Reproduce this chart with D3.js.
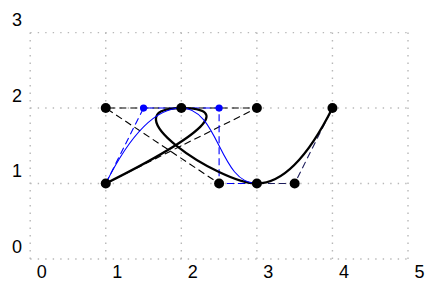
<!DOCTYPE html>
<html><head><meta charset="utf-8">
<script src="https://cdn.jsdelivr.net/npm/d3@7"></script>
<style>html,body{margin:0;padding:0;background:#fff;}svg{display:block;}</style>
</head><body>
<script>
const xTicks = [0,1,2,3,4,5];
const yTicks = [0,1,2,3];
// black path: M1,1 Q3,2 2,2 S2.5,1 3,1 T4,2 (with reflected control points)
const blackStart = [1,1];
const blackSegments = [
  {type:"Q", pts:[[3,2],[2,2]]},
  {type:"C", pts:[[1,2],[2.5,1],[3,1]]},
  {type:"Q", pts:[[3.5,1],[4,2]]}
];
// blue path: M1,1 Q1.5,2 2,2 S2.5,1 3,1
const blueStart = [1,1];
const blueSegments = [
  {type:"Q", pts:[[1.5,2],[2,2]]},
  {type:"C", pts:[[2.5,2],[2.5,1],[3,1]]}
];

const W=426,H=282;
const svg=d3.select("body").append("svg").attr("width",W).attr("height",H);
const x=d3.scaleLinear().domain([0,5]).range([30.2,408]);
const y=d3.scaleLinear().domain([0,3]).range([259,32.6]);

// grid
const g=svg.append("g");
g.selectAll(".vg").data(xTicks).enter().append("line")
 .attr("x1",d=>x(d)).attr("x2",d=>x(d)).attr("y1",y(0)).attr("y2",y(3))
 .attr("stroke","#b8b8b8").attr("stroke-width",1.4).attr("stroke-dasharray","1.4,6.1");
g.selectAll(".hg").data(yTicks).enter().append("line")
 .attr("y1",d=>y(d)).attr("y2",d=>y(d)).attr("x1",x(0)).attr("x2",x(5))
 .attr("stroke","#b8b8b8").attr("stroke-width",1.4).attr("stroke-dasharray","1.4,6.1");

// tick labels
svg.selectAll(".xl").data(xTicks).enter().append("text")
 .attr("x",d=>x(d)+11.5).attr("y",278).attr("text-anchor","middle")
 .attr("font-family","Liberation Sans, Arial, sans-serif").attr("font-size",18).text(d=>d);
svg.selectAll(".yl").data(yTicks).enter().append("text")
 .attr("x",17).attr("y",d=>y(d)-6.5).attr("text-anchor","middle")
 .attr("font-family","Liberation Sans, Arial, sans-serif").attr("font-size",18).text(d=>d);

function buildPath(start,segs){
  const p=d3.path();
  p.moveTo(x(start[0]),y(start[1]));
  segs.forEach(s=>{
    const q=s.pts.map(v=>[x(v[0]),y(v[1])]);
    if(s.type==="Q") p.quadraticCurveTo(q[0][0],q[0][1],q[1][0],q[1][1]);
    else p.bezierCurveTo(q[0][0],q[0][1],q[1][0],q[1][1],q[2][0],q[2][1]);
  });
  return p.toString();
}
function polygons(start,segs){
  const out=[]; let cur=start;
  segs.forEach(s=>{ out.push([cur].concat(s.pts)); cur=s.pts[s.pts.length-1]; });
  return out;
}
const line=d3.line().x(d=>x(d[0])).y(d=>y(d[1]));

// control polygons
const bp=polygons(blackStart,blackSegments);
svg.selectAll(".bpoly").data(bp).enter().append("path")
 .attr("d",line).attr("fill","none")
 .attr("stroke",(d,i)=>i===bp.length-1?"#1c1c5c":"#000")
 .attr("stroke-width",1.1).attr("stroke-dasharray","7,4");
svg.selectAll(".cpoly").data(polygons(blueStart,blueSegments)).enter().append("path")
 .attr("d",line).attr("fill","none").attr("stroke","#0000ff")
 .attr("stroke-width",1.1).attr("stroke-dasharray","7,4");

// curves
svg.append("path").attr("d",buildPath(blackStart,blackSegments)).attr("fill","none")
 .attr("stroke","#000").attr("stroke-width",2.3);
svg.append("path").attr("d",buildPath(blueStart,blueSegments)).attr("fill","none")
 .attr("stroke","#0000ff").attr("stroke-width",1.1);

// points
const blueCtrl=[]; blueSegments.forEach(s=>s.pts.slice(0,-1).forEach(p=>blueCtrl.push(p)));
svg.selectAll(".bd").data(blueCtrl).enter().append("circle")
 .attr("cx",d=>x(d[0])).attr("cy",d=>y(d[1])).attr("r",3.6).attr("fill","#0000ff");
const blackPts=[blackStart]; blackSegments.forEach(s=>s.pts.forEach(p=>blackPts.push(p)));
svg.selectAll(".kd").data(blackPts).enter().append("circle")
 .attr("cx",d=>x(d[0])).attr("cy",d=>y(d[1])).attr("r",5).attr("fill","#000");
</script>
</body></html>
